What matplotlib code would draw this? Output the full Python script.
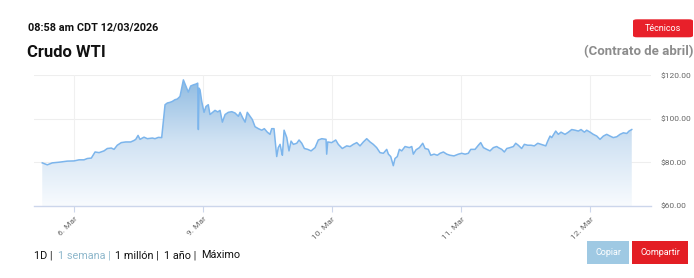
# Crudo WTI - intraday chart, one week view
import numpy as np
import matplotlib
matplotlib.use('Agg')
import matplotlib.pyplot as plt
from matplotlib.colors import LinearSegmentedColormap
from matplotlib.patches import FancyBboxPatch, Rectangle

plt.rcParams['font.family'] = ['Roboto', 'DejaVu Sans']

# x = trading-day position (0 = 6. Mar, 1 = 9. Mar, ...), y = price in USD
pos = [-0.246, -0.207, -0.168, -0.116, -0.052, 0.000, 0.039, 0.077, 0.103, 0.134,
       0.163, 0.194, 0.232, 0.258, 0.289, 0.310, 0.335, 0.366, 0.400, 0.439,
       0.465, 0.478, 0.496, 0.511, 0.542, 0.568, 0.607, 0.627, 0.653, 0.679,
       0.705, 0.723, 0.744, 0.761, 0.782, 0.800, 0.821, 0.834, 0.847, 0.857,
       0.873, 0.885, 0.904, 0.924, 0.945, 0.958, 0.963, 0.968, 0.976, 0.989,
       1.007, 1.022, 1.040, 1.053, 1.074, 1.092, 1.113, 1.131, 1.149, 1.170,
       1.195, 1.222, 1.247, 1.273, 1.286, 1.307, 1.325, 1.342, 1.363, 1.381,
       1.402, 1.428, 1.454, 1.474, 1.497, 1.518, 1.531, 1.549, 1.570, 1.582,
       1.596, 1.609, 1.614, 1.627, 1.648, 1.665, 1.681, 1.699, 1.725, 1.743,
       1.764, 1.784, 1.810, 1.836, 1.867, 1.892, 1.919, 1.952, 1.957, 1.965,
       1.996, 2.027, 2.047, 2.078, 2.112, 2.138, 2.163, 2.190, 2.215, 2.241,
       2.267, 2.293, 2.318, 2.344, 2.370, 2.396, 2.422, 2.435, 2.453, 2.473,
       2.486, 2.504, 2.520, 2.538, 2.564, 2.597, 2.616, 2.628, 2.649, 2.675,
       2.701, 2.719, 2.744, 2.763, 2.789, 2.814, 2.835, 2.861, 2.887, 2.912,
       2.943, 2.977, 3.003, 3.029, 3.054, 3.073, 3.106, 3.132, 3.150, 3.171,
       3.197, 3.222, 3.248, 3.274, 3.287, 3.313, 3.333, 3.352, 3.377, 3.403,
       3.421, 3.441, 3.467, 3.488, 3.514, 3.540, 3.565, 3.592, 3.617, 3.654,
       3.669, 3.687, 3.700, 3.720, 3.731, 3.751, 3.772, 3.803, 3.829, 3.855,
       3.881, 3.906, 3.927, 3.953, 3.971, 3.997, 4.022, 4.049, 4.074, 4.100,
       4.126, 4.152, 4.177, 4.204, 4.229, 4.255, 4.281, 4.299, 4.320]
price = [79.8, 78.9, 79.8, 80.1, 80.6, 80.7, 81.2, 81.2, 81.8, 82.0,
         84.8, 84.5, 85.3, 86.4, 86.6, 86.0, 87.9, 89.1, 89.4, 89.4,
         90.1, 90.6, 92.4, 90.6, 91.6, 90.9, 91.2, 90.9, 91.5, 91.4,
         106.5, 107.3, 107.6, 108.0, 108.8, 109.1, 110.3, 114.1, 117.9, 116.4,
         114.1, 112.3, 115.1, 115.6, 116.0, 116.4, 95.1, 114.1, 113.3, 108.0,
         103.0, 105.7, 106.5, 102.0, 103.0, 103.9, 103.2, 103.9, 98.5, 102.0,
         103.0, 103.3, 102.7, 101.2, 103.0, 100.4, 98.5, 103.0, 101.2, 99.7,
         96.4, 95.5, 94.8, 95.5, 93.9, 92.9, 95.5, 95.5, 82.7, 86.8,
         88.3, 84.5, 83.3, 94.8, 91.4, 85.3, 89.8, 88.3, 88.8, 90.3,
         88.8, 86.4, 86.0, 85.3, 86.8, 90.3, 90.9, 90.6, 83.8, 89.4,
         89.1, 90.3, 88.3, 86.4, 87.6, 87.3, 88.3, 89.1, 87.6, 89.4,
         90.9, 89.4, 88.3, 86.8, 84.5, 84.2, 86.0, 83.8, 82.7, 78.5,
         81.8, 82.7, 86.0, 85.3, 87.3, 86.8, 87.3, 83.8, 85.8, 86.8,
         88.8, 86.4, 86.0, 83.3, 83.8, 83.3, 84.2, 84.8, 83.8, 83.3,
         83.0, 83.8, 84.2, 83.8, 84.2, 86.0, 86.0, 87.9, 89.1, 86.8,
         86.0, 85.3, 86.8, 87.3, 86.8, 86.0, 84.8, 86.4, 86.8, 87.3,
         88.8, 87.9, 86.4, 88.3, 87.9, 87.9, 87.6, 88.8, 88.3, 87.6,
         89.8, 92.1, 91.4, 93.3, 94.4, 92.9, 93.9, 92.9, 93.9, 95.1,
         94.8, 94.4, 95.1, 93.9, 94.8, 93.9, 92.9, 92.1, 90.6, 92.1,
         92.9, 92.1, 91.4, 91.8, 92.9, 93.6, 93.3, 94.4, 95.1]

tick_pos = [0, 1, 2, 3, 4]
tick_labels = ['6. Mar', '9. Mar', '10. Mar', '11. Mar', '12. Mar']
y_ticks = [60, 80, 100, 120]
y_labels = ['$60.00', '$80.00', '$100.00', '$120.00']
nav_items = ['1D', '1 semana', '1 millón', '1 año', 'Máximo']

W, H = 694, 278
fig = plt.figure(figsize=(W / 100, H / 100), dpi=100)
fig.patch.set_facecolor('white')

def px(x, y):
    # pixel position -> figure fraction
    return x / W, 1 - y / H

ax = fig.add_axes([34 / W, 1 - 206 / H, 617 / W, (206 - 75.3) / H])
xmin, xmax = -0.310, 4.469

# gradient area under the curve
grad = np.linspace(1, 0, 256).reshape(-1, 1)
cmap = LinearSegmentedColormap.from_list('area', ['#f8fbfe', '#d0e2f3', '#8cb9e0'])
im = ax.imshow(grad, extent=[xmin, xmax, 60, 120], aspect='auto', cmap=cmap,
               origin='upper', zorder=1, interpolation='bilinear')
poly = ax.fill_between(pos, price, 60, color='none', lw=0)
im.set_clip_path(poly.get_paths()[0], transform=ax.transData)

ax.plot(pos, price, color='#7cb5ec', lw=1.1, zorder=3)

ax.set_xlim(xmin, xmax)
ax.set_ylim(60, 120)

# grid
for v in y_ticks[1:]:
    ax.axhline(v, color='#eeeeee', lw=0.8, zorder=0)
for t in tick_pos:
    ax.axvline(t, color='#f0f0f0', lw=0.8, zorder=0)

for s in ['top', 'left', 'right']:
    ax.spines[s].set_visible(False)
ax.spines['bottom'].set_color('#ccd6eb')
ax.spines['bottom'].set_linewidth(1)

ax.set_xticks(tick_pos)
ax.set_xticklabels(tick_labels, rotation=45, ha='right', va='top',
                   rotation_mode='anchor', fontsize=6, color='#666666')
ax.tick_params(axis='x', length=4, color='#ccd6eb', width=0.8, pad=3)

ax.yaxis.tick_right()
ax.set_yticks(y_ticks)
ax.set_yticklabels(y_labels, fontsize=6, color='#666666')
ax.tick_params(axis='y', length=0, pad=7)

# header
fig.text(*px(28, 27.7), '08:58 am CDT 12/03/2026', fontsize=7.8, fontweight='bold',
         color='#111111', va='center', ha='left')
fig.text(*px(27, 52.3), 'Crudo WTI', fontsize=12, fontweight='bold',
         color='#111111', va='center', ha='left')
fig.text(*px(693, 51.7), '(Contrato de abril)', fontsize=9.5, fontweight='bold',
         color='#8c8c8c', va='center', ha='right')

btn = FancyBboxPatch(px(633, 37.3), 60 / W, 18 / H,
                     boxstyle='round,pad=0,rounding_size=0.006',
                     transform=fig.transFigure, facecolor='#e8202a', edgecolor='none')
fig.patches.append(btn)
fig.text(*px(663, 28.3), 'Técnicos', fontsize=6.5, color='white', va='center', ha='center')

# bottom range selector, laid out left to right
renderer = fig.canvas.get_renderer()
x = 34
for i, label in enumerate(nav_items):
    color = '#8fb8cc' if label == '1 semana' else '#111111'
    s = label + (' |' if i < len(nav_items) - 1 else '')
    t = fig.text(*px(x, 255), s, fontsize=7.8, color=color, va='center', ha='left')
    x += t.get_window_extent(renderer).width + 5

fig.patches.append(Rectangle(px(587.3, 264), 41.7 / W, 23.3 / H,
                             transform=fig.transFigure, facecolor='#9fc9e3', edgecolor='none'))
fig.text(*px(608, 252.5), 'Copiar', fontsize=6.5, color='white', va='center', ha='center')
fig.patches.append(Rectangle(px(632.3, 264), 55.7 / W, 23.3 / H,
                             transform=fig.transFigure, facecolor='#e31e24', edgecolor='none'))
fig.text(*px(660, 252.5), 'Compartir', fontsize=6.5, color='white', va='center', ha='center')

plt.savefig('out.png', dpi=100, facecolor='white')
